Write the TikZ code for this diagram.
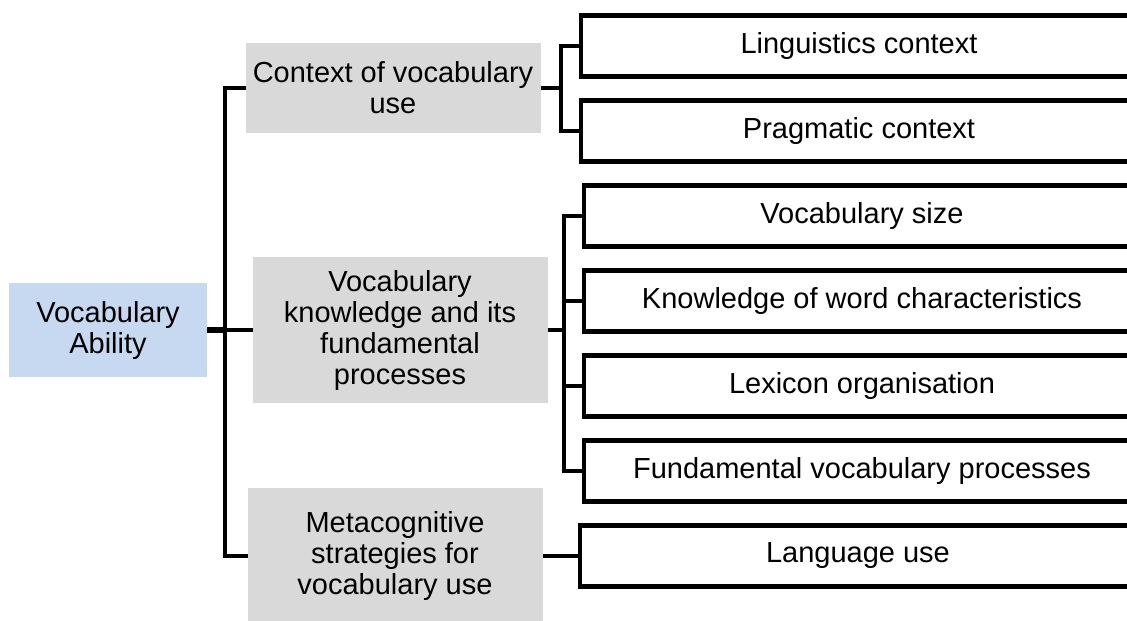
\documentclass[tikz,border=0pt]{standalone}
\usepackage{fontspec}
\setmainfont{Liberation Sans}
\usetikzlibrary{positioning,calc}

\definecolor{abilityblue}{RGB}{198,217,240}
\definecolor{aspectgray}{RGB}{217,217,217}

\begin{document}
\begin{tikzpicture}[
      x=1pt,y=-1pt,
      font=\fontsize{29}{31}\selectfont,node distance=24pt,
      block/.style={align=center,inner sep=0pt,outer sep=0pt},
      ability/.style={block,fill=abilityblue,minimum width=198pt,minimum height=94pt},
      aspect/.style={block,fill=aspectgray,minimum width=295pt},
      leaf/.style={block,draw,line width=4.5pt,minimum width=556pt,minimum height=61pt},
      link/.style={line width=4.5pt}]
    \clip (0,0) rectangle (1127,621);
    \node[ability] (ability) at (108,330) {Vocabulary\\Ability};
    \node[aspect,minimum height=90pt] (ctx) at (393,88) {Context of vocabulary\\use};
    \node[aspect,minimum height=146pt] (know) at (400,330) {Vocabulary\\knowledge and its\\fundamental\\processes};
    \node[aspect,minimum height=136pt] (meta) at (395,556) {Metacognitive\\strategies for\\vocabulary use};
    % right column
    \node[leaf,anchor=west] (ling) at (581,46) {Linguistics context};
    \node[leaf,below=of ling] (prag) {Pragmatic context};
    \node[leaf,anchor=west] (size) at (584,216) {Vocabulary size};
    \node[leaf,below=of size] (wchar) {Knowledge of word characteristics};
    \node[leaf,below=of wchar] (lex) {Lexicon organisation};
    \node[leaf,below=of lex] (fund) {Fundamental vocabulary processes};
    \node[leaf,anchor=west] (use) at (580,556) {Language use};
    % brackets
    \coordinate (trunk) at (225,330);
    \coordinate (ctxbr) at ($(ctx.east)!0.5!(ling.west|-ctx.east)$);
    \coordinate (knowbr) at ($(know.east)!0.45!(size.west|-know.east)$);
    \draw[link] (ctx.west) -| (trunk) |- (meta.west);
    \draw[link,line width=6.5pt] (ability) -- (trunk);
    \draw[link] (trunk) -- (know);
    \draw[link] (ctx.east) -- (ctxbr);
    \draw[link] (ling.west) -| (ctxbr) |- (prag.west);
    \draw[link] (know.east) -- (knowbr);
    \draw[link] (size.west) -| (knowbr) |- (fund.west);
    \draw[link] (wchar.west) -- (wchar.west-|knowbr);
    \draw[link] (lex.west) -- (lex.west-|knowbr);
    \draw[link] (meta) -- (use);
  \end{tikzpicture}
\end{document}
